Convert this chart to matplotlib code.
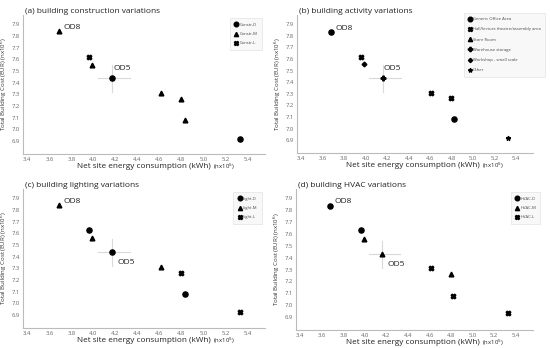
import matplotlib
matplotlib.use("Agg")
import matplotlib.pyplot as plt
import numpy as np

plt.rcParams['font.family'] = ['Open Sans', 'DejaVu Sans']

titles = ["(a) building construction variations", "(b) building activity variations",
          "(c) building lighting variations", "(d) building HVAC variations"]

# Panel a
a_labels = ["Constr-D", "Constr-M", "Constr-L"]
a_x = [[4.17, 5.33], [3.69, 3.99, 4.61, 4.80, 4.83], [3.96]]
a_y = [[7.44, 6.92], [7.84, 7.55, 7.31, 7.26, 7.08], [7.62]]
# Panel b
b_labels = ["Generic Office Area", "Hall/lecture theatre/assembly area", "Store Room",
            "Warehouse storage", "Workshop - small scale", "Other"]
b_x = [[3.68, 4.82], [3.96, 4.61, 4.80], [], [4.16], [3.98], [5.33]]
b_y = [[7.83, 7.08], [7.62, 7.31, 7.26], [], [7.44], [7.56], [6.92]]
# Panel c
c_labels = ["Light-D", "Light-M", "Light-L"]
c_x = [[3.96, 4.17, 4.83], [3.69, 3.99, 4.61], [4.80, 5.33]]
c_y = [[7.63, 7.44, 7.08], [7.84, 7.56, 7.31], [7.26, 6.93]]
# Panel d
d_labels = ["HVAC-D", "HVAC-M", "HVAC-L"]
d_x = [[3.68, 3.96], [3.99, 4.16, 4.80], [4.61, 4.82, 5.33]]
d_y = [[7.84, 7.63], [7.56, 7.43, 7.26], [7.31, 7.08, 6.93]]

od8 = [(3.69, 7.84), (3.68, 7.83), (3.69, 7.84), (3.68, 7.84)]
od5 = [(4.17, 7.44), (4.16, 7.44), (4.17, 7.44), (4.16, 7.43)]
od5_below = [False, False, True, True]

xticks = [3.4, 3.6, 3.8, 4.0, 4.2, 4.4, 4.6, 4.8, 5.0, 5.2, 5.4]
yticks = [6.9, 7.0, 7.1, 7.2, 7.3, 7.4, 7.5, 7.6, 7.7, 7.8, 7.9]

markers3 = ['o', '^', 'X']
markers6 = ['o', 'X', '^', 'P', 'D', '*']
msizes3 = [3.7, 3.4, 3.4]
msizes6 = [3.7, 3.4, 3.4, 3.4, 2.4, 3.4]

W, H = 550, 348
fig = plt.figure(figsize=(W / 100, H / 100), dpi=100)

boxes = [(23, 265, 15, 154), (297, 533, 15, 153), (23, 265, 189, 328), (296, 533, 189, 330)]
panels = [(a_labels, a_x, a_y, markers3, msizes3),
          (b_labels, b_x, b_y, markers6, msizes6),
          (c_labels, c_x, c_y, markers3, msizes3),
          (d_labels, d_x, d_y, markers3, msizes3)]
leg_anchor = [(0.995, 0.99), (1.06, 1.03), (0.995, 0.99), (1.04, 0.99)]

txt_c = '#222222'
for i, (box, panel) in enumerate(zip(boxes, panels)):
    l, r, t, b = box
    ax = fig.add_axes([l / W, 1 - b / H, (r - l) / W, (b - t) / H])
    labels, xs, ys, mks, mss = panel
    # crosshair at OD5
    cx, cy = od5[i]
    ax.plot([cx - 0.125, cx + 0.165], [cy, cy], color='#d9d9d9', lw=0.8, zorder=1)
    ax.plot([cx, cx], [cy - 0.12, cy + 0.11], color='#d9d9d9', lw=0.8, zorder=1)
    for lab, x, y, m, ms in zip(labels, xs, ys, mks, mss):
        ax.plot(x, y, linestyle='none', marker=m, color='black', markersize=ms,
                label=lab, zorder=3)
    ax.set_xlim(3.36, 5.56)
    ax.set_ylim(6.79, 7.98)
    ax.set_xticks(xticks)
    ax.set_xticklabels([f"{v:.1f}" for v in xticks])
    ax.set_yticks(yticks)
    ax.set_yticklabels([f"{v:.1f}" for v in yticks])
    ax.tick_params(length=0, labelsize=4.2, labelcolor='#666666', pad=2)
    for s in ['top', 'right']:
        ax.spines[s].set_visible(False)
    for s in ['left', 'bottom']:
        ax.spines[s].set_color('#bbbbbb')
        ax.spines[s].set_linewidth(0.8)
    ax.text(0.008, 1.0, titles[i], transform=ax.transAxes, fontsize=6.0,
            ha='left', va='bottom', color=txt_c)
    ax.set_ylabel("Total Building Cost (EUR) (nx10$^6$)", fontsize=4.4, color='#333333')
    ax.yaxis.set_label_coords(-0.058, 0.5)
    main = ax.text(0.775, -0.092, "Net site energy consumption (kWh)", transform=ax.transAxes,
                   fontsize=5.9, ha='right', va='center', color=txt_c)
    ax.annotate("(nx10$^5$)", xy=(1.0, 0.45), xycoords=main, xytext=(1.5, 0),
                textcoords='offset points', fontsize=4.3, ha='left', va='center',
                color=txt_c)
    ox, oy = od8[i]
    ax.text(ox + 0.04, oy + 0.005, "OD8", fontsize=6.0, color=txt_c,
            ha='left', va='bottom')
    if od5_below[i]:
        ax.text(cx + 0.05, cy - 0.06, "OD5", fontsize=6.0, color=txt_c,
                ha='left', va='top')
    else:
        ax.text(cx + 0.01, cy + 0.05, "OD5", fontsize=6.0, color=txt_c,
                ha='left', va='bottom')
    leg = ax.legend(loc='upper right', bbox_to_anchor=leg_anchor[i], fontsize=3,
                    frameon=True, fancybox=False, markerscale=0.9,
                    handletextpad=0.3, labelspacing=1.3 if i != 1 else 1.5,
                    borderpad=1.0, handlelength=1.0)
    leg.get_frame().set_edgecolor('#dddddd')
    leg.get_frame().set_facecolor('#f7f7f7')
    leg.get_frame().set_linewidth(0.5)
    for txt in leg.get_texts():
        txt.set_color('#444444')

fig.savefig("out.png", dpi=100)
